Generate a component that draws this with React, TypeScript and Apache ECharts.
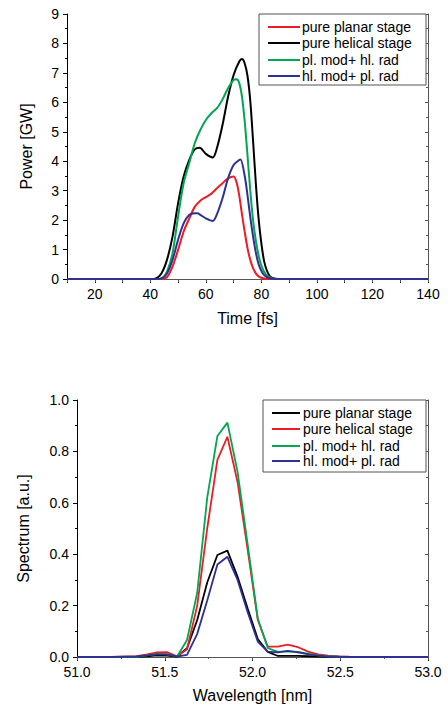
import React, { useEffect, useRef } from "react";
import * as echarts from "echarts";

// ---------- Top panel: Power vs Time ----------
const powerNames = ["pure planar stage", "pure helical stage", "pl. mod+ hl. rad", "hl. mod+ pl. rad"];
const powerColors = ["#ed1c24", "#000000", "#00a651", "#2e3192"];

const powerPurePlanar: number[][] = [
  [10, 0], [40, 0], [44, 0], [46, 0.06], [48, 0.42], [50, 0.99], [52, 1.61], [54, 2.05], [56, 2.45],
  [58, 2.66], [60, 2.78], [62, 2.9], [64, 3.08], [66, 3.25], [68, 3.42], [70, 3.48], [71, 3.3],
  [72, 2.85], [73, 2.2], [74, 1.6], [75, 1.05], [76, 0.65], [77, 0.37], [78, 0.19], [79, 0.09],
  [80, 0.04], [82, 0], [140, 0],
];
const powerPureHelical: number[][] = [
  [10, 0], [40, 0], [42, 0.02], [44, 0.19], [46, 0.65], [48, 1.44], [50, 2.57], [52, 3.48], [54, 4.04],
  [56, 4.4], [57.8, 4.46], [60, 4.25], [62.5, 4.13], [64, 4.45], [66, 5.23], [68, 6.19], [70, 6.93],
  [72, 7.38], [73, 7.47], [74, 7.32], [75, 6.9], [76, 6.05], [77, 4.7], [78, 3.25], [79, 2.05],
  [80, 1.2], [81, 0.6], [82, 0.28], [83, 0.1], [84, 0.04], [86, 0], [140, 0],
];
const powerPlModHlRad: number[][] = [
  [10, 0], [42, 0], [44, 0.02], [46, 0.25], [48, 0.87], [50, 2.12], [52, 3.25], [54, 3.93], [56, 4.61],
  [58, 5.06], [60, 5.4], [62, 5.63], [64, 5.8], [66, 6.1], [68, 6.48], [70, 6.76], [71, 6.78],
  [72, 6.66], [73, 6.2], [74, 5.35], [75, 4.2], [76, 3.0], [77, 2.0], [78, 1.3], [79, 0.8],
  [80, 0.45], [81, 0.25], [82, 0.12], [84, 0.02], [86, 0], [140, 0],
];
const powerHlModPlRad: number[][] = [
  [10, 0], [42, 0], [44, 0.02], [46, 0.19], [48, 0.65], [50, 1.33], [52, 1.89], [54, 2.17], [56, 2.23],
  [57, 2.23], [58, 2.18], [60, 2.06], [62.5, 1.97], [64, 2.2], [66, 2.74], [68, 3.42], [70, 3.87],
  [72, 4.04], [72.5, 4.06], [74, 3.5], [75, 2.85], [76, 2.1], [77, 1.45], [78, 0.9], [79, 0.5],
  [80, 0.27], [81, 0.13], [82, 0.06], [84, 0.01], [86, 0], [140, 0],
];
const powerSeries = [powerPurePlanar, powerPureHelical, powerPlModHlRad, powerHlModPlRad];

// ---------- Bottom panel: Spectrum vs Wavelength ----------
const specNames = ["pure planar stage", "pure helical stage", "pl. mod+ hl. rad", "hl. mod+ pl. rad"];
const specColors = ["#000000", "#ed1c24", "#00a651", "#2e3192"];

const wavelength = [
  51.0, 51.2, 51.34, 51.4, 51.455, 51.512, 51.57, 51.627, 51.685, 51.742, 51.8, 51.857, 51.915,
  51.972, 52.03, 52.087, 52.145, 52.2, 52.26, 52.32, 52.375, 52.43, 52.49, 52.55, 52.7, 53.0,
];
const specPurePlanar = [
  0, 0, 0.001, 0.003, 0.006, 0.005, 0.002, 0.034, 0.144, 0.29, 0.397, 0.414, 0.312, 0.19, 0.07,
  0.02, 0.004, 0.004, 0.004, 0.003, 0.002, 0.001, 0, 0, 0, 0,
];
const specPureHelical = [
  0, 0, 0.003, 0.01, 0.018, 0.019, 0.003, 0.03, 0.2, 0.5, 0.767, 0.857, 0.68, 0.42, 0.145, 0.04,
  0.04, 0.048, 0.038, 0.02, 0.01, 0.005, 0.002, 0.001, 0, 0,
];
const specPlModHlRad = [
  0, 0, 0.001, 0.006, 0.012, 0.01, 0.002, 0.066, 0.25, 0.62, 0.86, 0.912, 0.72, 0.44, 0.15, 0.035,
  0.02, 0.022, 0.02, 0.012, 0.006, 0.003, 0.001, 0, 0, 0,
];
const specHlModPlRad = [
  0, 0, 0.002, 0.006, 0.01, 0.01, 0.002, 0.008, 0.09, 0.22, 0.36, 0.39, 0.3, 0.175, 0.06, 0.021,
  0.018, 0.024, 0.018, 0.01, 0.005, 0.002, 0.001, 0, 0, 0,
];
const specSeries = [specPurePlanar, specPureHelical, specPlModHlRad, specHlModPlRad];

const FONT = "'Liberation Sans', Arial, sans-serif";

function mainAxisCommon() {
  return {
    axisLine: { show: true, lineStyle: { color: "#000", width: 1 } },
    axisTick: { show: true, inside: false, length: 4, lineStyle: { color: "#000" } },
    minorTick: { show: true, splitNumber: 2, length: 2, lineStyle: { color: "#000" } },
    splitLine: { show: false },
    minorSplitLine: { show: false },
    axisLabel: { color: "#000", fontSize: 14, fontFamily: FONT, margin: 8 },
    nameTextStyle: { color: "#000", fontSize: 16, fontFamily: FONT },
    nameLocation: "middle" as const,
  };
}

function mirrorAxisCommon() {
  return {
    axisLine: { show: true, lineStyle: { color: "#555", width: 1 } },
    axisTick: { show: true, inside: true, length: 3, lineStyle: { color: "#555" } },
    minorTick: { show: true, splitNumber: 2, length: 2, lineStyle: { color: "#555" } },
    splitLine: { show: false },
    minorSplitLine: { show: false },
    axisLabel: { show: false },
  };
}

function legendGraphic(
  names: string[],
  colors: string[],
  box: { x: number; y: number; w: number; h: number },
  rows: number[],
  lineX0: number,
  lineX1: number,
  textX: number
) {
  const children: any[] = [
    {
      type: "rect",
      shape: { x: box.x, y: box.y, width: box.w, height: box.h },
      style: { fill: "#fff", stroke: "#555", lineWidth: 1 },
      z: 100,
    },
  ];
  names.forEach((n, i) => {
    children.push({
      type: "line",
      shape: { x1: lineX0, y1: rows[i], x2: lineX1, y2: rows[i] },
      style: { stroke: colors[i], lineWidth: 2 },
      z: 101,
    });
    children.push({
      type: "text",
      x: textX,
      y: rows[i],
      style: {
        text: n,
        fill: "#000",
        font: `14px ${FONT}`,
        textVerticalAlign: "middle",
        verticalAlign: "middle",
        textAlign: "left",
      },
      z: 101,
    });
  });
  return { type: "group", children };
}

export default function App() {
  const ref = useRef<HTMLDivElement>(null);

  useEffect(() => {
    if (!ref.current) return;
    const chart = echarts.init(ref.current, null, { renderer: "svg" });

    const series: any[] = [];
    powerSeries.forEach((d, i) => {
      series.push({
        type: "line",
        name: powerNames[i],
        xAxisIndex: 0,
        yAxisIndex: 0,
        data: d,
        smooth: 0.3,
        showSymbol: false,
        symbol: "none",
        lineStyle: { color: powerColors[i], width: 2 },
        itemStyle: { color: powerColors[i] },
      });
    });
    specSeries.forEach((vals, i) => {
      series.push({
        type: "line",
        name: specNames[i] + " ",
        xAxisIndex: 2,
        yAxisIndex: 2,
        data: wavelength.map((w, k) => [w, vals[k]]),
        smooth: false,
        showSymbol: false,
        symbol: "none",
        lineStyle: { color: specColors[i], width: 1.8 },
        itemStyle: { color: specColors[i] },
      });
    });

    const option: any = {
      animation: false,
      backgroundColor: "#fff",
      textStyle: { fontFamily: FONT },
      grid: [
        { left: 67, right: 20, top: 14, height: 265, containLabel: false, outerBoundsMode: "none" },
        { left: 77, right: 20, top: 400, height: 257, containLabel: false, outerBoundsMode: "none" },
      ],
      xAxis: [
        {
          ...mainAxisCommon(),
          type: "value",
          gridIndex: 0,
          position: "bottom",
          min: 10,
          max: 140,
          interval: 10,
          minorTick: { show: false },
          axisLabel: {
            color: "#000",
            fontSize: 14,
            fontFamily: FONT,
            margin: 8,
            formatter: (v: number) => (Math.round(v) % 20 === 0 ? String(Math.round(v)) : ""),
          },
          name: "Time [fs]",
          nameGap: 31,
        },
        {
          ...mirrorAxisCommon(),
          type: "value",
          gridIndex: 0,
          position: "top",
          min: 10,
          max: 140,
          interval: 10,
          minorTick: { show: false },
        },
        {
          ...mainAxisCommon(),
          type: "value",
          gridIndex: 1,
          position: "bottom",
          min: 51,
          max: 53,
          interval: 0.5,
          axisLabel: {
            color: "#000",
            fontSize: 14,
            fontFamily: FONT,
            margin: 8,
            formatter: (v: number) => v.toFixed(1),
          },
          name: "Wavelength [nm]",
          nameGap: 30,
        },
        {
          ...mirrorAxisCommon(),
          type: "value",
          gridIndex: 1,
          position: "top",
          min: 51,
          max: 53,
          interval: 0.5,
        },
      ],
      yAxis: [
        {
          ...mainAxisCommon(),
          type: "value",
          gridIndex: 0,
          position: "left",
          min: 0,
          max: 9,
          interval: 1,
          name: "Power [GW]",
          nameGap: 33,
          nameRotate: 90,
        },
        {
          ...mirrorAxisCommon(),
          type: "value",
          gridIndex: 0,
          position: "right",
          min: 0,
          max: 9,
          interval: 1,
        },
        {
          ...mainAxisCommon(),
          type: "value",
          gridIndex: 1,
          position: "left",
          min: 0,
          max: 1,
          interval: 0.2,
          axisLabel: {
            color: "#000",
            fontSize: 14,
            fontFamily: FONT,
            margin: 8,
            formatter: (v: number) => v.toFixed(1),
          },
          name: "Spectrum [a.u.]",
          nameGap: 46,
          nameRotate: 90,
        },
        {
          ...mirrorAxisCommon(),
          type: "value",
          gridIndex: 1,
          position: "right",
          min: 0,
          max: 1,
          interval: 0.2,
        },
      ],
      series,
      graphic: [
        legendGraphic(powerNames, powerColors, { x: 259, y: 14, w: 167, h: 71 }, [27, 43, 60, 76], 268, 300, 302),
        legendGraphic(specNames, specColors, { x: 263, y: 400, w: 163, h: 72 }, [413, 429, 446, 461], 272, 300, 303),
      ],
    };

    chart.setOption(option);
    return () => {
      chart.dispose();
    };
  }, []);

  return (
    <div
      ref={ref}
      style={{ position: "fixed", left: 0, top: 0, width: 448, height: 707, background: "#fff" }}
    />
  );
}
